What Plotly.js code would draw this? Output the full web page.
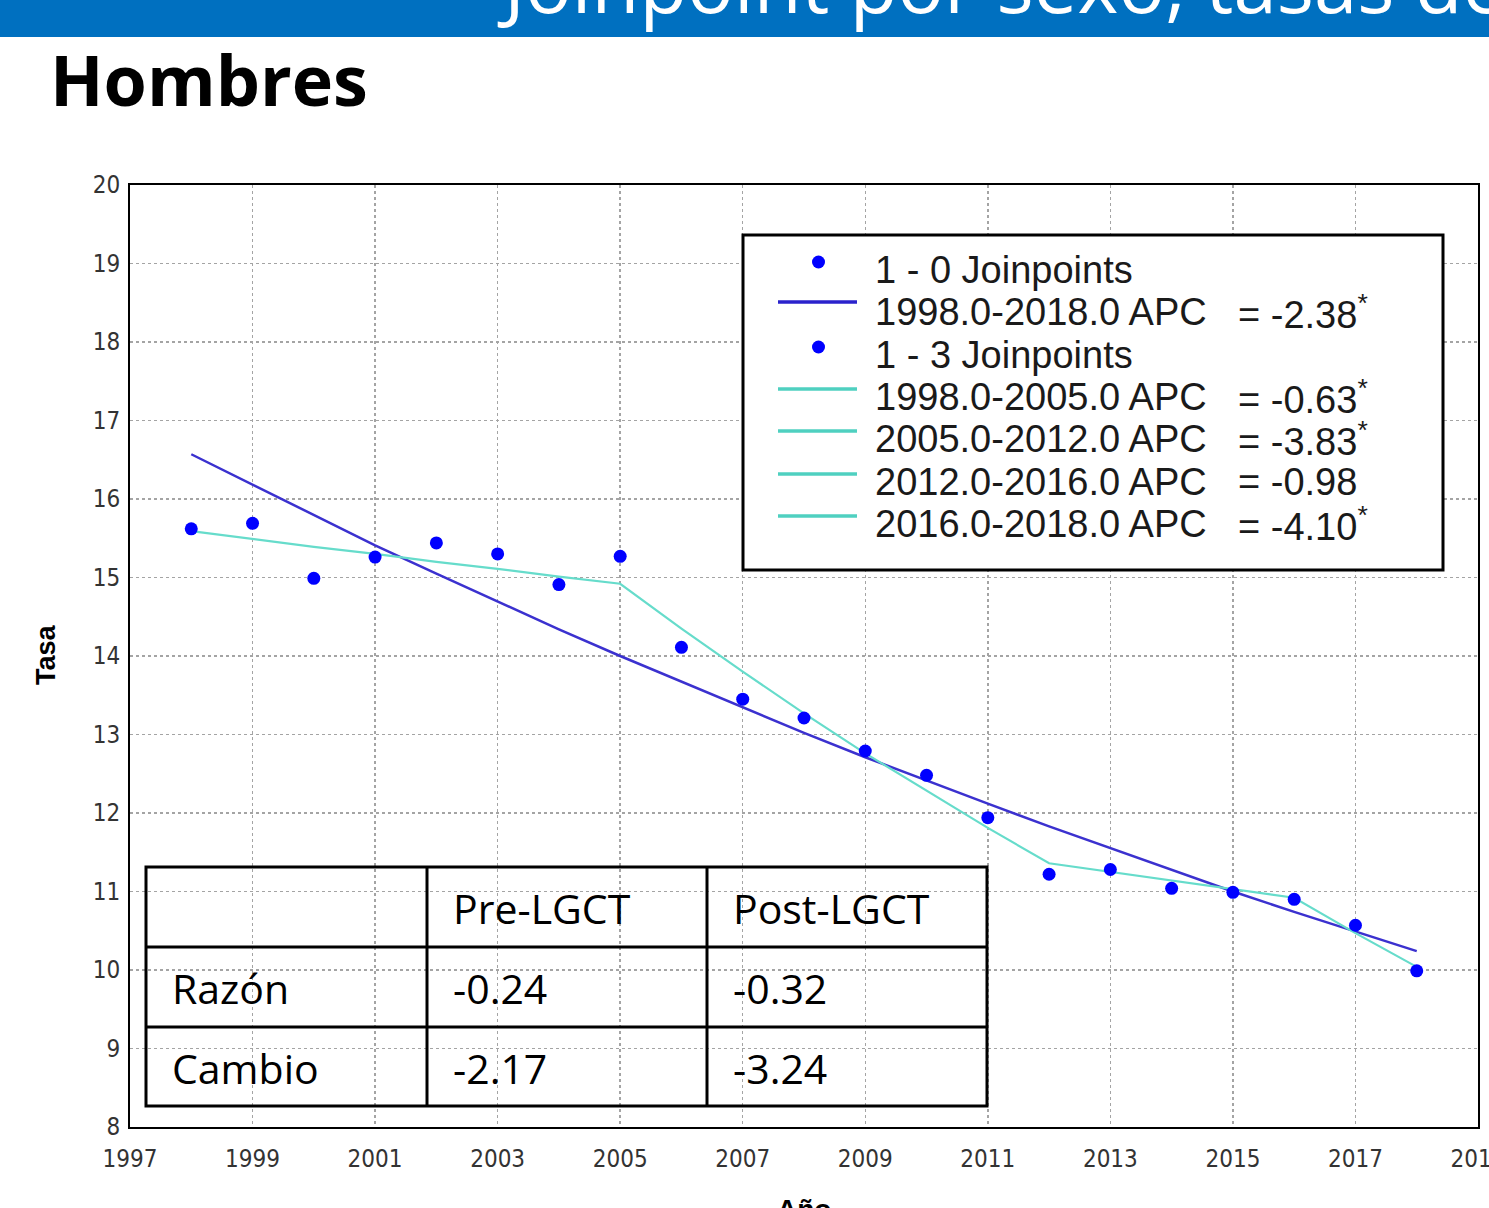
<!DOCTYPE html>
<html>
<head>
<meta charset="utf-8">
<script src="https://cdn.plot.ly/plotly-3.0.1.min.js"></script>
<style>
html,body{margin:0;padding:0;background:#fff;overflow:hidden;}
#chart{width:1489px;height:1208px;}
</style>
</head>
<body>
<div id="chart"></div>
<script>
// ---------------- data ----------------
const years = [1998,1999,2000,2001,2002,2003,2004,2005,2006,2007,2008,2009,2010,2011,2012,2013,2014,2015,2016,2017,2018];
const observedRate = [15.62,15.69,14.99,15.26,15.44,15.30,14.91,15.27,14.11,13.45,13.21,12.79,12.48,11.94,11.22,11.28,11.04,10.99,10.90,10.57,9.99];
const fit0Joinpoints = [16.57,16.18,15.79,15.41,15.05,14.69,14.34,14.00,13.67,13.34,13.02,12.71,12.41,12.12,11.83,11.55,11.27,11.00,10.74,10.49,10.24];
const fit3Joinpoints = [15.59,15.49,15.39,15.30,15.20,15.11,15.01,14.92,14.35,13.80,13.27,12.76,12.28,11.81,11.36,11.25,11.14,11.03,10.92,10.47,10.04];

const legendLabels = ["1 - 0 Joinpoints","1998.0-2018.0 APC","1 - 3 Joinpoints","1998.0-2005.0 APC","2005.0-2012.0 APC","2012.0-2016.0 APC","2016.0-2018.0 APC"];
const legendKinds = ["dot","blue","dot","cyan","cyan","cyan","cyan"];
const apcValues = [null,-2.38,null,-0.63,-3.83,-0.98,-4.10];
const apcSignificant = [false,true,false,true,true,false,true];

const tableHeader = ["", "Pre-LGCT", "Post-LGCT"];
const tableRowLabels = ["Razón", "Cambio"];
const preLGCT = [-0.24, -2.17];
const postLGCT = [-0.32, -3.24];

const xTickVals = [1997,1999,2001,2003,2005,2007,2009,2011,2013,2015,2017,2019];
const yTickVals = [8,9,10,11,12,13,14,15,16,17,18,19,20];

const bannerTitle = "Joinpoint por sexo, tasas de";
const panelTitle = "Hombres";
const yTitle = "Tasa";
const xTitle = "Año";

// ---------------- layout helpers ----------------
const W = 1489, H = 1208;
const PL = 130, PR = 1478, PT = 185, PB = 1127;
const px = p => (p - PL) / (PR - PL);
const py = p => (PB - p) / (PB - PT);

const BLUE_PT = "#0000ff";
const BLUE_LN = "#3b31cf";
const CYAN_LN = "#66dccb";
const tickFont = {family: "Liberation Sans Narrow, Arial Narrow, DejaVu Sans Condensed, Liberation Sans, sans-serif", size: 24, color: "#333"};

const traces = [
  {x: years, y: fit0Joinpoints, type: "scatter", mode: "lines", line: {color: BLUE_LN, width: 2.5}, showlegend: false, hoverinfo: "skip"},
  {x: years, y: fit3Joinpoints, type: "scatter", mode: "lines", line: {color: CYAN_LN, width: 2.2}, showlegend: false, hoverinfo: "skip"},
  {x: years, y: observedRate, type: "scatter", mode: "markers", marker: {color: BLUE_PT, size: 13}, showlegend: false}
];

const shapes = [];
const annotations = [];

// banner
shapes.push({type: "rect", xref: "paper", yref: "paper", x0: px(0), x1: px(W), y0: py(37), y1: py(-5), fillcolor: "#0070c0", line: {width: 0}, layer: "above"});
annotations.push({xref: "paper", yref: "paper", x: px(495), y: py(38), xanchor: "left", yanchor: "bottom", showarrow: false,
  text: bannerTitle, font: {family: "Open Sans, Noto Sans, sans-serif", size: 78, color: "#ffffff"}});
// panel title
annotations.push({xref: "paper", yref: "paper", x: px(48), y: py(79), xanchor: "left", yanchor: "middle", showarrow: false,
  text: "<b>" + panelTitle + "</b>", font: {family: "Open Sans, Noto Sans, sans-serif", size: 70, color: "#000"}});
// axis titles
annotations.push({xref: "paper", yref: "paper", x: px(804), y: py(1192), xanchor: "center", yanchor: "top", showarrow: false,
  text: "<b>" + xTitle + "</b>", font: {family: "Liberation Sans, Arial, sans-serif", size: 28, color: "#000"}});
annotations.push({xref: "paper", yref: "paper", x: px(46), y: py(655), xanchor: "center", yanchor: "middle", showarrow: false, textangle: -90,
  text: "<b>" + yTitle + "</b>", font: {family: "Liberation Sans, Arial, sans-serif", size: 27, color: "#000"}});

// legend box
shapes.push({type: "rect", xref: "paper", yref: "paper", x0: px(743), x1: px(1443), y0: py(570), y1: py(235), fillcolor: "#fff", line: {color: "#000", width: 3}, layer: "above"});
const symY = [262, 302, 347, 389, 431, 474, 516];
const txtY = [270, 312, 355, 397, 439, 482, 524];
const legFont = {family: "Liberation Sans, Arial, sans-serif", size: 38, color: "#1a1a1a"};
legendLabels.forEach((lab, i) => {
  const k = legendKinds[i];
  if (k === "dot") {
    shapes.push({type: "circle", xref: "paper", yref: "paper", x0: px(812), x1: px(825), y0: py(symY[i] + 6.5), y1: py(symY[i] - 6.5), fillcolor: BLUE_PT, line: {width: 0}, layer: "above"});
  } else {
    shapes.push({type: "line", xref: "paper", yref: "paper", x0: px(778), x1: px(857), y0: py(symY[i]), y1: py(symY[i]),
      line: {color: k === "blue" ? "#2a22cc" : "#4fd0c0", width: 3.5}, layer: "above"});
  }
  annotations.push({xref: "paper", yref: "paper", x: px(873), y: py(txtY[i]), xanchor: "left", yanchor: "middle", showarrow: false, text: lab, font: legFont});
  if (apcValues[i] !== null) {
    annotations.push({xref: "paper", yref: "paper", x: px(1236), y: py(txtY[i]), xanchor: "left", yanchor: "middle", showarrow: false,
      text: "= " + apcValues[i].toFixed(2) + (apcSignificant[i] ? "<sup>*</sup>" : ""), font: legFont});
  }
});

// table
const tX = [146, 427, 707, 987];
const tY = [867, 947, 1027, 1106];
shapes.push({type: "rect", xref: "paper", yref: "paper", x0: px(tX[0]), x1: px(tX[3]), y0: py(tY[3]), y1: py(tY[0]), line: {color: "#000", width: 3}, layer: "above"});
[tX[1], tX[2]].forEach(x => shapes.push({type: "line", xref: "paper", yref: "paper", x0: px(x), x1: px(x), y0: py(tY[3]), y1: py(tY[0]), line: {color: "#000", width: 3}, layer: "above"}));
[tY[1], tY[2]].forEach(y => shapes.push({type: "line", xref: "paper", yref: "paper", x0: px(tX[0]), x1: px(tX[3]), y0: py(y), y1: py(y), line: {color: "#000", width: 3}, layer: "above"}));
const tabFont = {family: "Open Sans, Noto Sans, sans-serif", size: 41, color: "#000"};
const cellText = (t, col, row) => annotations.push({xref: "paper", yref: "paper", x: px(tX[col] + 24), y: py((tY[row] + tY[row + 1]) / 2 + 1), xanchor: "left", yanchor: "middle", showarrow: false, text: t, font: tabFont});
tableHeader.forEach((h, c) => { if (h) cellText(h, c, 0); });
tableRowLabels.forEach((r, i) => {
  cellText(r, 0, i + 1);
  cellText(preLGCT[i].toFixed(2), 1, i + 1);
  cellText(postLGCT[i].toFixed(2), 2, i + 1);
});

const axisCommon = {showgrid: true, gridcolor: "#a4a4a4", griddash: "dot", gridwidth: 1.5, showline: true, mirror: true, linecolor: "#000", linewidth: 2,
  ticks: "", zeroline: false, tickfont: tickFont, automargin: false, fixedrange: true, ticklabeloverflow: "allow"};

const layout = {
  width: W, height: H,
  margin: {l: PL, r: W - PR, t: PT, b: H - PB, pad: 0},
  paper_bgcolor: "#fff", plot_bgcolor: "#fff",
  showlegend: false,
  xaxis: Object.assign({}, axisCommon, {range: [1997, 2019], tickmode: "array", tickvals: xTickVals, ticktext: xTickVals.map(String), ticklabelstandoff: 9}),
  yaxis: Object.assign({}, axisCommon, {range: [8, 20], tickmode: "array", tickvals: yTickVals, ticktext: yTickVals.map(String), ticklabelstandoff: 3}),
  shapes: shapes,
  annotations: annotations
};

Plotly.newPlot("chart", traces, layout, {displayModeBar: false, staticPlot: true});
</script>
</body>
</html>
